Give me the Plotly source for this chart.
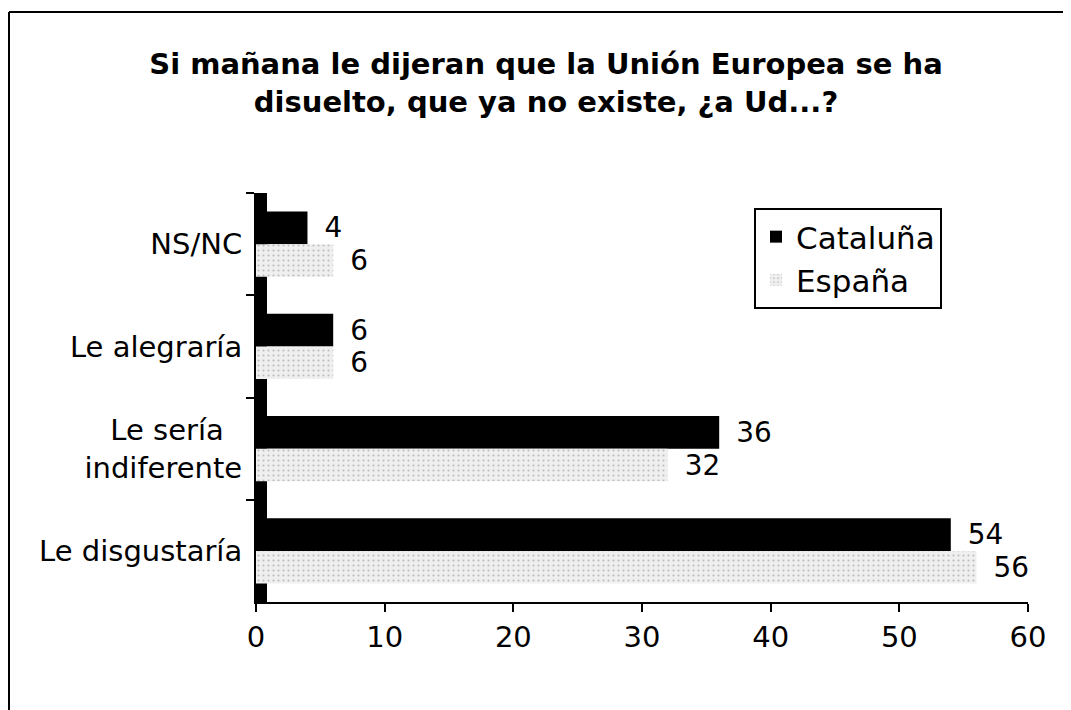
import plotly.graph_objects as go

categories = ["NS/NC", "Le alegraría", "Le sería\u00a0\u00a0<br>indiferente", "Le disgustaría"]
cataluna = [4, 6, 36, 54]
espana = [6, 6, 32, 56]
x_ticks = [0, 10, 20, 30, 40, 50, 60]

FONT = "DejaVu Sans"

# figure offset by the page's 8px body margin
W, H = 1063, 702
L, R, T, B = 248, 43, 185, 108
PW = W - L - R
PH = H - T - B

fig = go.Figure()
fig.add_trace(go.Bar(
    name="Cataluña", y=categories, x=cataluna, orientation="h",
    marker=dict(color="black", line=dict(width=0)),
    text=[str(v) for v in cataluna], texttemplate="\u2002%{text}", textposition="outside",
    textfont=dict(size=29, color="black", family=FONT),
    cliponaxis=False,
))
fig.add_trace(go.Bar(
    name="España", y=categories, x=espana, orientation="h",
    marker=dict(color="#efefef", line=dict(width=0),
                pattern=dict(shape=".", fgcolor="#8a8a8a", size=5, solidity=0.15)),
    text=[str(v) for v in espana], texttemplate="\u2002%{text}", textposition="outside",
    textfont=dict(size=29, color="black", family=FONT),
    cliponaxis=False,
))

fig.update_layout(
    width=W, height=H, autosize=False,
    margin=dict(l=L, r=R, t=T, b=B),
    paper_bgcolor="white", plot_bgcolor="white",
    font=dict(family=FONT, size=29, color="black"),
    title=dict(
        text="<b>Si mañana le dijeran que la Unión Europea se ha<br>disuelto, que ya no existe, ¿a Ud...?</b>",
        x=538 / W, xanchor="center", xref="container",
        y=1 - 66 / H, yanchor="top", yref="container",
        font=dict(family=FONT, size=29, color="black"),
    ),
    barmode="group", bargap=0.36, bargroupgap=0,
    showlegend=True,
    legend=dict(
        x=(746 - L) / PW, y=(T + PH - 200) / PH, xanchor="left", yanchor="top",
        bordercolor="black", borderwidth=2, bgcolor="white",
        font=dict(family=FONT, size=31, color="black"),
        traceorder="normal", itemsizing="constant",
    ),
    xaxis=dict(
        range=[0, 60], tickvals=x_ticks, ticktext=[str(t) for t in x_ticks],
        showline=True, linecolor="black", linewidth=2,
        ticks="outside", ticklen=8, tickwidth=2, tickcolor="black",
        showgrid=False, zeroline=False,
        tickfont=dict(family=FONT, size=29, color="black"),
    ),
    yaxis=dict(
        autorange="reversed",
        showline=True, linecolor="black", linewidth=2,
        ticks="outside", ticklen=8, tickwidth=2, tickcolor="black",
        tickson="boundaries", ticklabelstandoff=6,
        showgrid=False, zeroline=False,
        tickfont=dict(family=FONT, size=29, color="black"),
    ),
    shapes=[
        # 3D-style left wall behind bars
        dict(type="rect", xref="paper", yref="paper", x0=0, x1=11 / PW, y0=0, y1=1,
             fillcolor="black", line=dict(width=0), layer="below"),
        # outer chart frame: top and left edges
        dict(type="line", xref="paper", yref="paper",
             x0=(1 - L) / PW, x1=(W - L) / PW,
             y0=(T + PH - 4) / PH, y1=(T + PH - 4) / PH,
             line=dict(color="black", width=2), layer="above"),
        dict(type="line", xref="paper", yref="paper",
             x0=(1 - L) / PW, x1=(1 - L) / PW,
             y0=(T + PH - 4) / PH, y1=(T + PH - H) / PH,
             line=dict(color="black", width=2), layer="above"),
    ],
)

fig.write_html("out.html")
